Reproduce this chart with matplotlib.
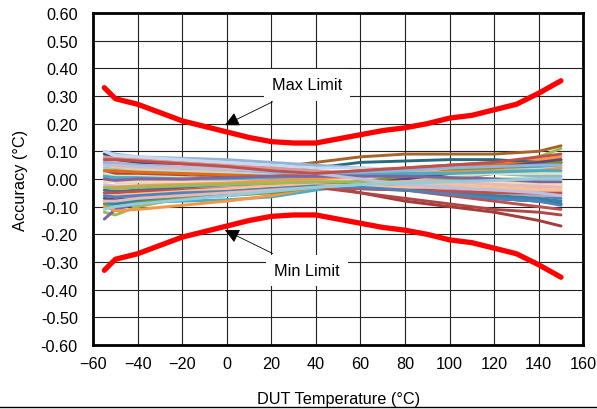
import matplotlib
matplotlib.use('Agg')
import matplotlib.pyplot as plt
from matplotlib.ticker import FuncFormatter
from matplotlib.lines import Line2D

plt.rcParams['font.family'] = ['Liberation Sans', 'DejaVu Sans']

# temperatures of the measured devices
temps = [-55, -50, -40, -20, 0, 20, 40, 60, 80, 100, 120, 140, 150]

# accuracy of each device (°C), one list per unit
units = [
    [0.07, 0.065, 0.06, 0.05, 0.04, 0.03, 0.02, 0.01, 0.0, -0.02, -0.04, -0.06, -0.07],
    [0.06, 0.06, 0.055, 0.045, 0.035, 0.02, 0.0, -0.02, -0.04, -0.06, -0.08, -0.10, -0.11],
    [-0.12, -0.13, -0.10, -0.07, -0.055, -0.04, -0.03, -0.01, 0.01, 0.03, 0.05, 0.08, 0.11],
    [-0.145, -0.11, -0.09, -0.07, -0.055, -0.04, -0.03, -0.02, -0.01, 0.0, 0.02, 0.05, 0.06],
    [-0.10, -0.09, -0.085, -0.08, -0.075, -0.065, -0.04, -0.02, 0.0, 0.02, 0.03, 0.04, 0.05],
    [-0.10, -0.115, -0.11, -0.095, -0.08, -0.06, -0.03, 0.0, 0.03, 0.05, 0.06, 0.07, 0.08],
    [0.09, 0.07, 0.06, 0.05, 0.04, 0.03, 0.01, -0.01, -0.03, -0.05, -0.07, -0.08, -0.09],
    [0.01, 0.01, 0.015, 0.02, 0.03, 0.04, 0.06, 0.08, 0.09, 0.09, 0.09, 0.10, 0.12],
    [0.03, 0.03, 0.025, 0.02, 0.01, 0.0, -0.02, -0.05, -0.08, -0.10, -0.12, -0.15, -0.17],
    [0.02, 0.02, 0.015, 0.01, 0.0, -0.01, -0.03, -0.05, -0.07, -0.09, -0.11, -0.12, -0.13],
    [0.0, -0.01, -0.01, -0.01, 0.0, 0.02, 0.04, 0.06, 0.065, 0.07, 0.07, 0.06, 0.06],
    [0.10, 0.09, 0.08, 0.075, 0.07, 0.06, 0.05, 0.04, 0.03, 0.03, 0.02, 0.01, 0.01],
    [0.08, 0.075, 0.07, 0.06, 0.05, 0.04, 0.03, 0.02, 0.02, 0.01, 0.0, -0.01, -0.02],
    [0.0, -0.01, -0.01, -0.015, -0.02, -0.02, -0.01, 0.0, 0.01, 0.01, 0.02, 0.02, 0.02],
    [-0.05, -0.05, -0.045, -0.04, -0.03, -0.02, -0.01, -0.02, -0.03, -0.04, -0.05, -0.06, -0.06],
    [0.04, 0.035, 0.03, 0.025, 0.02, 0.015, 0.01, 0.01, 0.0, 0.0, -0.01, -0.02, -0.02],
    [0.05, 0.045, 0.04, 0.035, 0.025, 0.015, 0.005, 0.0, -0.01, -0.02, -0.03, -0.04, -0.045],
    [-0.04, -0.045, -0.04, -0.03, -0.02, -0.015, -0.01, -0.02, -0.03, -0.05, -0.07, -0.08, -0.09],
    [0.02, 0.01, 0.01, 0.005, 0.0, 0.0, 0.0, 0.005, 0.01, 0.015, 0.02, 0.02, 0.02],
    [0.065, 0.06, 0.05, 0.045, 0.04, 0.03, 0.02, 0.015, 0.01, 0.0, -0.01, -0.02, -0.03],
    [-0.02, -0.025, -0.025, -0.02, -0.015, -0.01, -0.01, -0.015, -0.02, -0.03, -0.04, -0.05, -0.055],
    [0.03, 0.03, 0.03, 0.025, 0.02, 0.015, 0.01, 0.02, 0.02, 0.03, 0.03, 0.035, 0.04],
    [-0.01, -0.01, -0.01, -0.01, -0.005, 0.0, 0.0, 0.0, -0.005, -0.01, -0.01, -0.015, -0.02],
    [0.10, 0.085, 0.08, 0.07, 0.06, 0.05, 0.04, 0.04, 0.035, 0.03, 0.03, 0.03, 0.03],
    [0.03, 0.03, 0.025, 0.02, 0.015, 0.01, 0.02, 0.03, 0.04, 0.05, 0.05, 0.06, 0.07],
    [-0.07, -0.075, -0.07, -0.06, -0.045, -0.03, -0.02, -0.01, 0.0, 0.02, 0.04, 0.06, 0.07],
    [-0.09, -0.085, -0.08, -0.07, -0.06, -0.05, -0.03, -0.01, 0.01, 0.03, 0.04, 0.05, 0.06],
    [-0.08, -0.09, -0.075, -0.06, -0.05, -0.04, -0.03, -0.035, -0.04, -0.05, -0.06, -0.07, -0.08],
    [0.06, 0.055, 0.05, 0.04, 0.035, 0.025, 0.02, 0.025, 0.03, 0.04, 0.045, 0.05, 0.05],
    [-0.03, -0.03, -0.025, -0.02, -0.015, -0.005, 0.0, 0.01, 0.02, 0.025, 0.03, 0.03, 0.04],
    [-0.05, -0.05, -0.045, -0.04, -0.035, -0.03, -0.03, -0.035, -0.04, -0.045, -0.05, -0.05, -0.05],
    [0.01, 0.005, 0.005, 0.0, 0.0, 0.005, 0.01, 0.015, 0.02, 0.02, 0.025, 0.03, 0.03],
    [-0.06, -0.06, -0.055, -0.045, -0.035, -0.025, -0.02, -0.025, -0.03, -0.03, -0.035, -0.04, -0.04],
    [-0.03, -0.035, -0.03, -0.025, -0.02, -0.015, -0.01, -0.01, -0.01, -0.005, 0.0, 0.0, 0.0],
    [0.0, -0.005, 0.0, 0.0, 0.005, 0.01, 0.01, 0.01, 0.01, 0.005, 0.0, -0.01, -0.01],
    [-0.06, -0.065, -0.06, -0.05, -0.045, -0.035, -0.025, -0.03, -0.04, -0.055, -0.07, -0.08, -0.095],
    [0.05, 0.05, 0.045, 0.04, 0.035, 0.03, 0.02, 0.0, -0.02, -0.03, -0.04, -0.05, -0.06],
    [0.07, 0.07, 0.065, 0.055, 0.045, 0.03, 0.02, 0.03, 0.04, 0.05, 0.06, 0.08, 0.09],
    [-0.08, -0.08, -0.07, -0.06, -0.05, -0.04, -0.03, -0.02, -0.01, -0.01, -0.02, -0.03, -0.03],
    [-0.11, -0.10, -0.09, -0.075, -0.06, -0.045, -0.03, -0.02, -0.015, -0.01, -0.005, 0.0, 0.0],
]

unit_colors = [
    '#4F81BD', '#C0504D', '#9BBB59', '#8064A2', '#4BACC6', '#F79646',
    '#2C4D75', '#A5642A', '#A33C3A', '#B04744', '#276A7C', '#95B3D7',
    '#D99694', '#C3D69B', '#B3A2C7', '#93CDDD', '#FAC090', '#3A6CA8',
    '#D7E4BD', '#E6B9B8', '#CCC1DA', '#B7DEE8', '#FCD5B5', '#C6D9F1',
    '#E46C0A', '#5F497A', '#77933C', '#31859C', '#8EB4E3', '#F79646',
    '#C0504D', '#4BACC6', '#FAC090', '#9BBB59', '#8064A2', '#4F81BD',
    '#BFBFDF', '#C0504D', '#E6B9B8', '#93CDDD',
]

# spec limits
limit_temps = [-55, -50, -40, -30, -20, -10, 0, 10, 20, 30, 40, 50, 60, 70, 80, 90,
               100, 110, 120, 130, 140, 150]
max_limit = [0.33, 0.29, 0.27, 0.24, 0.21, 0.19, 0.17, 0.15, 0.135, 0.13, 0.13, 0.145,
             0.16, 0.175, 0.185, 0.20, 0.22, 0.23, 0.25, 0.27, 0.31, 0.355]
min_limit = [-v for v in max_limit]

fs = 11.7

fig = plt.figure(figsize=(5.97, 4.10), dpi=100)
ax = fig.add_axes([0.156, 0.156, 0.821, 0.810])

for vals, col in zip(units, unit_colors):
    ax.plot(temps, vals, color=col, lw=2.1, solid_capstyle='round')

ax.plot(limit_temps, max_limit, color='#FF0000', lw=3.8, solid_capstyle='round')
ax.plot(limit_temps, min_limit, color='#FF0000', lw=3.8, solid_capstyle='round')

ax.set_xlim(-60, 160)
ax.set_ylim(-0.6, 0.6)
ax.set_xticks(range(-60, 161, 20))
ax.set_yticks([i / 10 for i in range(-6, 7)])
ax.yaxis.set_major_formatter(FuncFormatter(lambda v, p: '%.2f' % v))
ax.grid(True, color='#222222', lw=0.8)
ax.set_axisbelow(True)
ax.tick_params(length=0, labelsize=fs)
ax.tick_params(axis='y', pad=11)
ax.tick_params(axis='x', pad=8)
for s in ax.spines.values():
    s.set_linewidth(2)
    s.set_color('black')

ax.set_xlabel('DUT Temperature (°C)', fontsize=fs, labelpad=14)
ax.set_ylabel('Accuracy (°C)', fontsize=fs, labelpad=9)

box = dict(boxstyle='square,pad=0.5', fc='white', ec='none')
arrow = dict(arrowstyle='-|>', color='black', lw=0.6, mutation_scale=22)
ax.annotate('Max Limit', xy=(-2, 0.19), xytext=(36, 0.34), ha='center', va='center',
            fontsize=fs, bbox=box, arrowprops=arrow)
ax.annotate('Min Limit', xy=(-2, -0.18), xytext=(36, -0.33), ha='center', va='center',
            fontsize=fs, bbox=box, arrowprops=arrow)

fig.add_artist(Line2D([0, 1], [0.006, 0.006], color='black', lw=1))

fig.savefig('out.png', dpi=100)
